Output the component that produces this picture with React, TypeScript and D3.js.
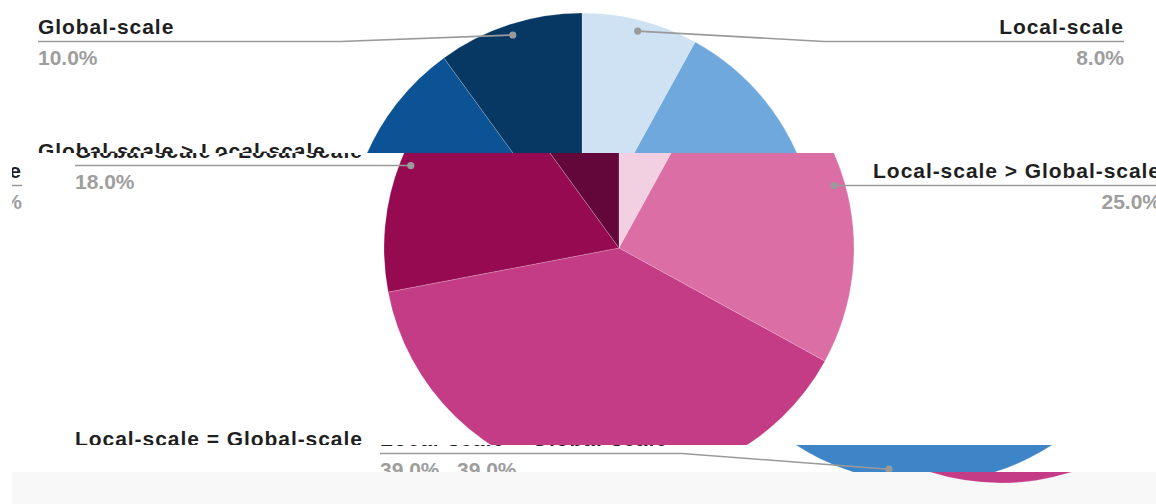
import React from "react";
import * as d3 from "d3";

// ---- data ----
const categories: string[] = [
  "Local-scale",
  "Local-scale > Global-scale",
  "Local-scale = Global-scale",
  "Global-scale > Local-scale",
  "Global-scale",
];
const values: number[] = [8, 25, 39, 18, 10];
const bluePalette: string[] = ["#cfe2f3", "#6fa8dc", "#3d85c6", "#0b5394", "#073763"];
const pinkPalette: string[] = ["#f2cfe1", "#dc6ea6", "#c43c85", "#950a51", "#63073a"];

const W = 1156;
const H = 504;
const CX0 = 582;
const CY = 248;
const R = 235;

type Parts = { pie?: boolean; lines?: boolean; names?: boolean; values?: boolean; only?: number[] };

function Layer({ dx, colors, clip, parts }: { dx: number; colors: string[]; clip: string; parts: Parts }) {
  const cx = CX0 + dx;
  const pieData = d3.pie<number>().sort(null).value((d) => d)(values);
  const arc = d3.arc<d3.PieArcDatum<number>>().innerRadius(0).outerRadius(R);
  const yClamp = d3.scaleLinear().domain([41.5, 453.5]).range([41.5, 453.5]).clamp(true);
  const fmt = d3.format(".1f");
  return (
    <g clipPath={`url(#${clip})`}>
      {parts.pie &&
        pieData.map((p, i) => (
          <path
            key={"s" + i}
            d={arc(p) || ""}
            transform={`translate(${cx},${CY})`}
            fill={colors[i]}
            stroke="#ffffff"
            strokeWidth={0.4}
            strokeOpacity={0.5}
          />
        ))}
      {pieData.map((p, i) => {
        if (parts.only && !parts.only.includes(i)) return null;
        const mid = (p.startAngle + p.endAngle) / 2;
        const dotX = cx + Math.sin(mid) * (R * 0.953);
        const dotY = CY - Math.cos(mid) * (R * 0.953);
        const right = Math.sin(mid) > 0;
        const lineY = yClamp(dotY);
        const anchorX = right ? cx + 542 : cx - 544;
        const kinkX = right ? cx + 242 : cx - 242;
        const anchor = right ? "end" : "start";
        return (
          <g key={"l" + i}>
            {parts.lines && (
              <>
                <path
                  d={`M${dotX},${dotY}L${kinkX},${lineY}L${anchorX},${lineY}`}
                  fill="none"
                  stroke="#9a9a9a"
                  strokeWidth={1.6}
                />
                <circle cx={dotX} cy={dotY} r={3.6} fill="#9a9a9a" />
              </>
            )}
            {parts.names && (
              <text
                x={anchorX}
                y={lineY - 7.5}
                textAnchor={anchor}
                fontFamily="'Liberation Sans', Arial, sans-serif"
                fontWeight="bold"
                fontSize={21}
                letterSpacing={0.95}
                fill="#1f1f1f"
              >
                {categories[i]}
              </text>
            )}
            {parts.values && (
              <text
                x={anchorX}
                y={lineY + 23.5}
                textAnchor={anchor}
                fontFamily="'Liberation Sans', Arial, sans-serif"
                fontWeight="bold"
                fontSize={21}
                fill="#9e9e9e"
              >
                {fmt(values[i]) + "%"}
              </text>
            )}
          </g>
        );
      })}
    </g>
  );
}

export default function App() {
  const all: Parts = { pie: true, lines: true, names: true, values: true };
  return (
    <div style={{ position: "absolute", left: 0, top: 0 }}>
      <svg width={W} height={H} style={{ display: "block" }}>
        <defs>
          <clipPath id="cTop">
            <rect x={0} y={0} width={W} height={153} />
          </clipPath>
          <clipPath id="cMid">
            <rect x={0} y={153} width={W} height={292} />
          </clipPath>
          <clipPath id="cMidWrap">
            <rect x={12} y={153} width={W - 12} height={292} />
          </clipPath>
          <clipPath id="cBot">
            <rect x={0} y={445} width={W} height={27} />
          </clipPath>
          <clipPath id="cFoot">
            <rect x={0} y={472} width={W} height={32} />
          </clipPath>
        </defs>
        <rect x={0} y={0} width={W} height={H} fill="#ffffff" />
        {/* top band: blue chart */}
        <Layer dx={0} colors={bluePalette} clip="cTop" parts={all} />
        {/* middle band: pink chart */}
        <Layer dx={37} colors={pinkPalette} clip="cMid" parts={all} />
        <Layer dx={-1102} colors={pinkPalette} clip="cMidWrap" parts={{ lines: true, names: true, values: true }} />
        {/* bottom band: blue chart shifted */}
        <Layer dx={342} colors={bluePalette} clip="cBot" parts={all} />
        <Layer dx={419} colors={pinkPalette} clip="cBot" parts={{ values: true, only: [2] }} />
        {/* footer */}
        <rect x={12} y={472} width={W - 12} height={32} fill="#f8f8f8" />
        <Layer dx={419} colors={pinkPalette} clip="cFoot" parts={{ pie: true }} />
      </svg>
    </div>
  );
}
